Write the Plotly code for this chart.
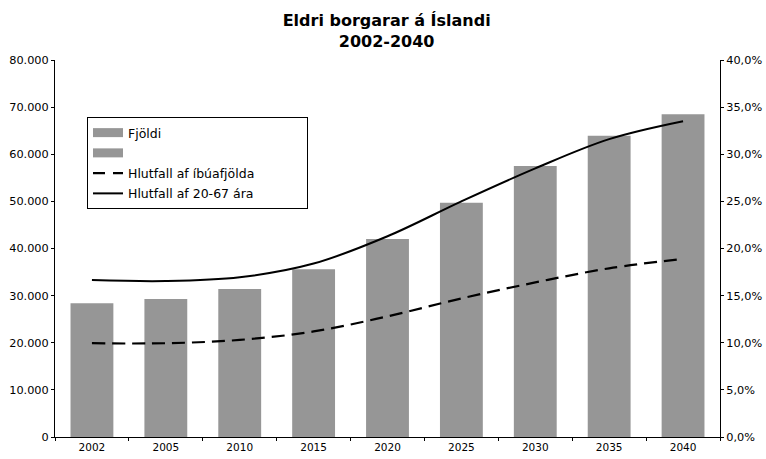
import plotly.graph_objects as go

years = ["2002", "2005", "2010", "2015", "2020", "2025", "2030", "2035", "2040"]
fjoldi = [28400, 29300, 31400, 35600, 42000, 49700, 57500, 63900, 68500]
hlutfall_ibua = [9.95, 9.95, 10.3, 11.2, 12.8, 14.7, 16.4, 17.9, 18.9]
hlutfall_20_67 = [16.65, 16.55, 16.95, 18.4, 21.3, 25.0, 28.5, 31.6, 33.5]
blank_series = [None]

left_ticks = [0, 10000, 20000, 30000, 40000, 50000, 60000, 70000, 80000]
left_labels = ["0", "10.000", "20.000", "30.000", "40.000", "50.000", "60.000", "70.000", "80.000"]
right_ticks = [0, 5, 10, 15, 20, 25, 30, 35, 40]
right_labels = ["0,0%", "5,0%", "10,0%", "15,0%", "20,0%", "25,0%", "30,0%", "35,0%", "40,0%"]

FONT = "DejaVu Sans, Verdana, sans-serif"
GREY = "#969696"
DASH = "13px,7px"
boundaries = [i - 0.5 for i in range(len(years) + 1)]

fig = go.Figure()
# data traces
fig.add_trace(go.Bar(x=years, y=fjoldi, name="Fjöldi", marker_color=GREY, marker_line_width=0,
                     showlegend=False))
fig.add_trace(go.Scatter(x=years, y=hlutfall_ibua, name="Hlutfall af íbúafjölda", yaxis="y2",
                         mode="lines", showlegend=False,
                         line=dict(color="black", width=2.2, dash=DASH, shape="spline")))
fig.add_trace(go.Scatter(x=years, y=hlutfall_20_67, name="Hlutfall af 20-67 ára", yaxis="y2",
                         mode="lines", showlegend=False,
                         line=dict(color="black", width=2, shape="spline")))
# legend entries (Excel-style wide swatches)
PAD = "\u00a0" * 12
legend_items = [
    ("Fjöldi", dict(color=GREY, width=9)),
    (" ", dict(color=GREY, width=9)),
    ("Hlutfall af íbúafjölda", dict(color="black", width=2.2, dash="12px,8px")),
    ("Hlutfall af 20-67 ára" + PAD, dict(color="black", width=2)),
]
for i, (nm, ln) in enumerate(legend_items):
    fig.add_trace(go.Scatter(x=blank_series, y=blank_series, name=nm, mode="lines", line=ln,
                             legendgroup=f"g{i}", showlegend=True, hoverinfo="skip"))

tick_common = dict(tickcolor="black", ticklen=3, tickwidth=1)

fig.update_layout(
    width=766, height=459,
    margin=dict(l=55, r=46, t=60, b=22, autoexpand=False),
    paper_bgcolor="white", plot_bgcolor="white",
    font=dict(family=FONT, size=11, color="black"),
    title=dict(text="<b>Eldri borgarar á Íslandi<br>2002-2040</b>", x=382 / 766, xanchor="center",
               xref="paper", y=1 - 26 / 459, yanchor="middle", font=dict(size=16, family=FONT),
               automargin=False),
    barmode="overlay", bargap=0.42,
    showlegend=True,
    legend=dict(x=(87 - 55) / 665, y=(437 - 117) / 377, xanchor="left", yanchor="top",
                bordercolor="black", borderwidth=1, bgcolor="white",
                font=dict(size=12.5, family=FONT), traceorder="grouped", tracegroupgap=1),
    xaxis=dict(type="category", tickson="boundaries", ticks="outside", showline=True, linecolor="black",
               linewidth=1, showgrid=False, tickfont=dict(size=10.5), automargin=False, **tick_common),
    xaxis2=dict(overlaying="x", anchor="y", range=[-0.5, len(years) - 0.5], tickvals=boundaries,
                ticks="inside", showticklabels=False, showgrid=False, zeroline=False, showline=False,
                **tick_common),
    yaxis=dict(range=[0, 80000], tickvals=left_ticks, ticktext=left_labels, ticks="outside",
               showline=True, linecolor="black", showgrid=False, zeroline=False,
               tickfont=dict(size=11.3), automargin=False, **tick_common),
    yaxis2=dict(range=[0, 40], tickvals=right_ticks, ticktext=right_labels, overlaying="y", side="right",
                ticks="outside", showline=True, linecolor="black", showgrid=False, zeroline=False,
                tickfont=dict(size=11.3), automargin=False, **tick_common),
    yaxis3=dict(range=[0, 80000], tickvals=left_ticks, overlaying="y", side="left", anchor="x",
                ticks="inside", showticklabels=False, showgrid=False, zeroline=False, **tick_common),
    yaxis4=dict(range=[0, 40], tickvals=right_ticks, overlaying="y", side="right", anchor="x",
                ticks="inside", showticklabels=False, showgrid=False, zeroline=False, **tick_common),
)

fig.write_html("out.html", config={"displayModeBar": False},
               post_script="document.body.style.margin='0';")
